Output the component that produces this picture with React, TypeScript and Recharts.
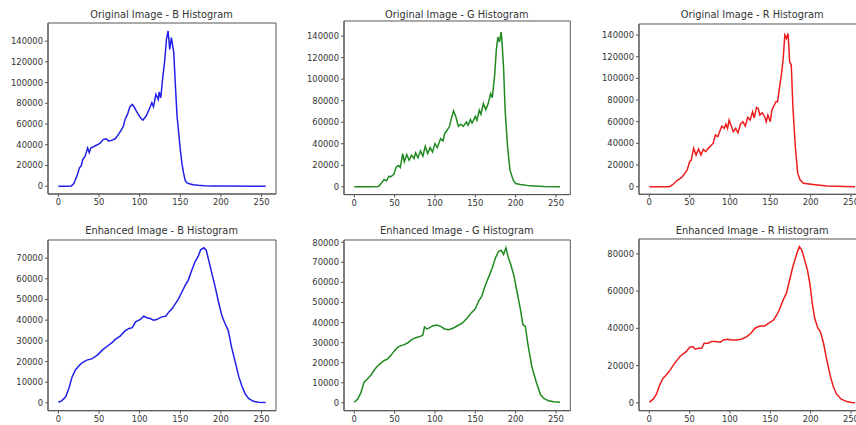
import { LineChart, Line, XAxis, YAxis, ReferenceArea } from "recharts";

// bins and counts
const origBBins = [0, 10, 16, 19, 21, 23, 26, 28, 30, 33, 36, 38, 40, 43, 46, 49, 52, 55, 59, 62, 66, 70, 74, 78, 80, 82, 85, 88, 91, 93, 96, 101, 104, 108, 112, 115, 117, 120, 123, 124, 126, 128, 131, 133, 135, 137, 139, 142, 144, 146, 150, 152, 154, 156, 158, 161, 166, 172, 180, 190, 200, 255];
const origBCounts = [0, 0, 300, 2500, 6400, 10000, 17800, 19500, 25800, 29000, 37000, 32300, 37000, 38000, 39300, 40300, 42000, 45000, 45800, 43500, 44500, 45800, 50000, 55000, 58000, 64500, 69300, 76700, 79000, 76700, 72500, 66000, 63800, 67700, 74800, 80500, 76700, 88600, 83800, 90900, 85400, 101500, 122500, 141800, 149800, 132100, 143400, 128900, 96700, 67700, 35400, 22000, 12800, 5500, 3500, 2300, 1500, 900, 500, 200, 100, 0];

const origGBins = [0, 20, 30, 34, 37, 40, 43, 45, 49, 52, 55, 57, 60, 62, 65, 68, 71, 74, 76, 79, 82, 85, 88, 91, 94, 97, 100, 103, 107, 110, 112, 115, 118, 120, 123, 126, 129, 132, 135, 139, 141, 144, 146, 150, 152, 155, 157, 160, 163, 166, 169, 171, 174, 176, 178, 180, 182, 183, 185, 187, 190, 193, 197, 200, 206, 218, 235, 255];
const origGCounts = [0, 0, 300, 3700, 6800, 5600, 9900, 9300, 11700, 18500, 19800, 17900, 30900, 23200, 30000, 24700, 29400, 26300, 31500, 26900, 33400, 28400, 37700, 30900, 36500, 32400, 40200, 36500, 44800, 42600, 49400, 52500, 56200, 62400, 70500, 64900, 56200, 58100, 56200, 60300, 57200, 62400, 59300, 65500, 61800, 71100, 67400, 77300, 71700, 77300, 86500, 82800, 103500, 126700, 139100, 134400, 143700, 136000, 111200, 71100, 37100, 15500, 6200, 3100, 2200, 900, 300, 0];

const origRBins = [0, 25, 30, 34, 38, 41, 44, 47, 50, 52, 55, 58, 61, 64, 67, 70, 73, 76, 79, 82, 85, 88, 90, 93, 95, 97, 99, 102, 104, 107, 110, 113, 116, 119, 122, 125, 128, 130, 133, 135, 137, 140, 143, 145, 147, 150, 152, 155, 157, 159, 161, 164, 166, 168, 170, 172, 174, 176, 178, 181, 184, 187, 191, 203, 220, 255];
const origRCounts = [0, 0, 2500, 5500, 7400, 9200, 12300, 15400, 23100, 24600, 35400, 29200, 34800, 29200, 34500, 32300, 35400, 37500, 40000, 47700, 46200, 52300, 56000, 53800, 57800, 53800, 61500, 55400, 50800, 53800, 49800, 57800, 60000, 56000, 64000, 61500, 69200, 63700, 73200, 72300, 66200, 68300, 64600, 60000, 66200, 60000, 70800, 75400, 78500, 78500, 89200, 104600, 118500, 140000, 136900, 141500, 115400, 112300, 73800, 36900, 12300, 6200, 3100, 2100, 600, 0];

const enhBBins = [0, 4, 9, 13, 17, 21, 25, 29, 35, 41, 48, 54, 60, 66, 70, 76, 82, 87, 91, 95, 101, 105, 109, 113, 117, 121, 127, 132, 136, 140, 144, 148, 152, 156, 160, 164, 168, 172, 175, 179, 182, 185, 189, 193, 197, 201, 205, 209, 213, 218, 222, 226, 230, 234, 240, 246, 255];
const enhBCounts = [300, 1000, 3000, 7100, 12700, 15900, 17800, 19400, 20700, 21300, 23100, 25500, 27400, 29100, 30700, 32300, 34800, 36000, 36400, 39200, 40400, 41900, 41200, 40800, 40000, 40300, 41600, 41900, 44000, 45600, 48000, 50400, 53600, 56800, 59500, 64000, 68100, 70800, 74000, 75000, 73700, 68900, 62400, 56000, 48800, 42400, 38400, 35100, 27100, 19100, 12700, 7900, 4300, 2200, 800, 300, 200];

const enhGBins = [0, 4, 8, 12, 17, 21, 25, 29, 33, 37, 41, 46, 50, 54, 58, 62, 66, 70, 74, 79, 82, 85, 87, 90, 93, 97, 102, 107, 112, 117, 123, 128, 134, 140, 145, 150, 154, 158, 162, 167, 171, 175, 179, 182, 185, 188, 191, 194, 198, 202, 206, 209, 212, 215, 220, 226, 231, 235, 241, 247, 255];
const enhGCounts = [300, 1800, 4800, 10200, 12300, 14000, 16500, 18500, 19800, 21100, 21800, 24000, 26000, 27800, 28500, 29000, 29800, 31100, 32100, 32800, 33100, 33800, 37800, 36800, 37300, 38300, 38800, 38100, 36800, 36400, 37300, 38400, 39800, 42300, 44800, 46800, 50600, 53100, 58100, 63100, 67200, 72200, 75500, 76000, 73900, 77200, 72200, 68900, 63100, 54700, 46400, 38900, 38100, 29800, 18100, 9800, 4000, 2200, 1000, 500, 300];

const enhRBins = [0, 5, 9, 13, 17, 21, 26, 30, 34, 38, 42, 46, 50, 54, 57, 61, 65, 68, 73, 77, 82, 88, 92, 97, 102, 108, 114, 121, 126, 131, 137, 143, 148, 154, 158, 162, 166, 170, 174, 178, 183, 186, 189, 192, 196, 199, 202, 205, 209, 212, 216, 220, 224, 228, 232, 238, 245, 251, 255];
const enhRCounts = [400, 2000, 4800, 9700, 13200, 15000, 17700, 20400, 22700, 24900, 26300, 27600, 29900, 30200, 28800, 29300, 29300, 32000, 32000, 32900, 32900, 32600, 33800, 34200, 33800, 33800, 34200, 35600, 37400, 40100, 41300, 41300, 42800, 44500, 47200, 50800, 55300, 58900, 66000, 73200, 80300, 83900, 82100, 77600, 71400, 64200, 53500, 45400, 40100, 38300, 32000, 23100, 15000, 8800, 4800, 2000, 700, 200, 100];

const xTicks = [0, 50, 100, 150, 200, 250];
const origTicks = [0, 20000, 40000, 60000, 80000, 100000, 120000, 140000];
const enhBTicks = [0, 10000, 20000, 30000, 40000, 50000, 60000, 70000];
const enhGTicks = [0, 10000, 20000, 30000, 40000, 50000, 60000, 70000, 80000];
const enhRTicks = [0, 20000, 40000, 60000, 80000];

const toRows = (bins: number[], counts: number[]) => bins.map((x, i) => ({ x, y: counts[i] }));

const X_DOMAIN: [number, number] = [-12.75, 267.75];
const YW = 55;
const XH = 22;
const SPINE = "#555";
const TEXT = "#333";

type PanelProps = {
  title: string;
  bins: number[];
  counts: number[];
  color: string;
  yTicks: number[];
  yDomain: [number, number];
  left: number;
  top: number;
  w: number;
  h: number;
  titleY: number;
};

const Panel = ({ title, bins, counts, color, yTicks, yDomain, left, top, w, h, titleY }: PanelProps) => {
  const data = toRows(bins, counts);
  return (
    <>
      <div
        style={{
          position: "absolute",
          left: left,
          width: w,
          top: titleY - 6,
          textAlign: "center",
          fontSize: 9.8,
          color: TEXT,
          lineHeight: "12px",
          whiteSpace: "nowrap",
        }}
      >
        {title}
      </div>
      <div style={{ position: "absolute", left: left - YW, top: top - 1 }}>
        <LineChart
          width={YW + w + 2}
          height={h + 1 + XH}
          data={data}
          margin={{ top: 1, right: 2, bottom: 0, left: 0 }}
        >
          <XAxis
            type="number"
            dataKey="x"
            domain={X_DOMAIN}
            ticks={xTicks}
            allowDataOverflow
            height={XH}
            tickSize={3}
            tickMargin={2}
            stroke={SPINE}
            tick={{ fontSize: 8.4, fill: TEXT }}
          />
          <YAxis
            type="number"
            domain={yDomain}
            ticks={yTicks}
            allowDataOverflow
            width={YW}
            tickSize={3}
            tickMargin={2}
            stroke={SPINE}
            tick={{ fontSize: 8.4, fill: TEXT }}
          />
          <Line
            type="linear"
            dataKey="y"
            stroke={color}
            strokeWidth={1.5}
            dot={false}
            isAnimationActive={false}
          />
          <ReferenceArea
            x1={X_DOMAIN[0]}
            x2={X_DOMAIN[1]}
            y1={yDomain[0]}
            y2={yDomain[1]}
            fill="none"
            stroke={SPINE}
            strokeWidth={1}
            ifOverflow="visible"
          />
        </LineChart>
      </div>
    </>
  );
};

export default function App() {
  return (
    <div
      style={{
        position: "absolute",
        left: 0,
        top: 0,
        width: 856,
        height: 425,
        overflow: "hidden",
        background: "#fff",
        fontFamily: "'DejaVu Sans', sans-serif",
      }}
    >
      <Panel title="Original Image - B Histogram" bins={origBBins} counts={origBCounts} color="#2020e8"
        yTicks={origTicks} yDomain={[-7500, 157500]} left={47.6} top={23.3} w={228} h={171} titleY={15} />
      <Panel title="Original Image - G Histogram" bins={origGBins} counts={origGCounts} color="#1f8a1f"
        yTicks={origTicks} yDomain={[-7200, 154000]} left={343.7} top={20.7} w={226.3} h={173.6} titleY={15} />
      <Panel title="Original Image - R Histogram" bins={origRBins} counts={origRCounts} color="#ee1c1c"
        yTicks={origTicks} yDomain={[-7000, 150200]} left={639} top={24} w={226.3} h={170.3} titleY={15} />
      <Panel title="Enhanced Image - B Histogram" bins={enhBBins} counts={enhBCounts} color="#2020e8"
        yTicks={enhBTicks} yDomain={[-3750, 78750]} left={47.6} top={240.3} w={228} h={170.7} titleY={231} />
      <Panel title="Enhanced Image - G Histogram" bins={enhGBins} counts={enhGCounts} color="#1f8a1f"
        yTicks={enhGTicks} yDomain={[-3900, 81100]} left={343.7} top={240.3} w={226.3} h={170.7} titleY={231} />
      <Panel title="Enhanced Image - R Histogram" bins={enhRBins} counts={enhRCounts} color="#ee1c1c"
        yTicks={enhRTicks} yDomain={[-4200, 88000]} left={639} top={239.3} w={226.3} h={171.7} titleY={231} />
    </div>
  );
}
